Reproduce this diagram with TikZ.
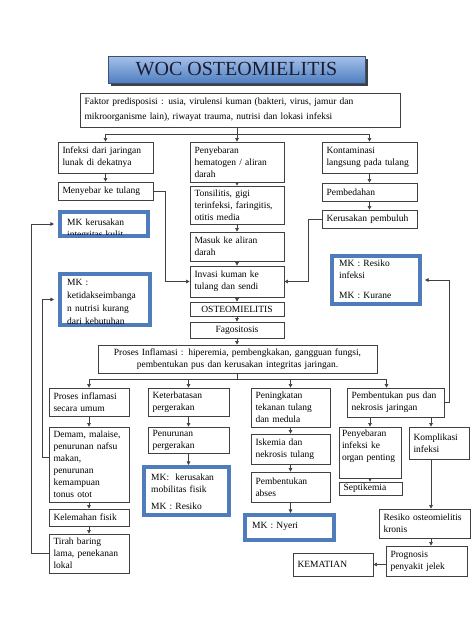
\documentclass[tikz,border=0pt]{standalone}
\usepackage{fontspec}
\setmainfont{Liberation Serif}
\usetikzlibrary{arrows.meta,calc}
\definecolor{lc}{HTML}{404040}
\definecolor{mkb}{HTML}{4F7CBA}
\definecolor{ttop}{HTML}{A6C2EA}
\definecolor{tbot}{HTML}{4E7EC0}
\definecolor{ttxt}{HTML}{1C1C30}
\newcommand\bxfont{\fontsize{9.5}{12}\selectfont\hyphenpenalty=10000\exhyphenpenalty=10000}
\newcommand\boxnode[7][]{%
  \pgfmathsetmacro\bxw{#5-#3}\pgfmathsetmacro\bxh{#6-#4}%
  \pgfmathsetmacro\bxtw{#5-#3-9}%
  \node[stdbox,minimum width=\bxw pt,minimum height=\bxh pt,text width=\bxtw pt,#1]
    (#2) at ({(#3+#5)/2},{(#4+#6)/2}) {#7};}
\newcommand\mknode[8][]{%
  \pgfmathsetmacro\mkw{#5-#3-4}\pgfmathsetmacro\mkh{#6-#4-4}%
  \pgfmathsetmacro\mktw{#5-#3-12}%
  \node[mkbox,minimum width=\mkw pt,minimum height=\mkh pt] (#2) at ({(#3+#5)/2},{(#4+#6)/2}) {};
  \begin{scope}
    \clip ({#3+4},{#4+4}) rectangle ({#5-4},{#6-4});
    \node[mktxt,text width=\mktw pt,anchor=north west,#1] (#2-t) at ({#3+9},#7) {#8};
  \end{scope}}
\begin{document}
\begin{tikzpicture}[x=1pt,y=-1pt,
  stdbox/.style={draw=lc,line width=0.75pt,fill=white,inner xsep=4.5pt,inner ysep=2pt,align=left,font=\bxfont},
  mkbox/.style={draw=mkb,line width=4pt,fill=white,inner sep=0pt},
  mktxt/.style={inner sep=0pt,align=left,font=\bxfont},
  ln/.style={draw=lc,line width=0.7pt},
  arr/.style={ln,-{Triangle[length=3.6pt,width=3.6pt]}}]
\useasboundingbox[fill=white] (0,0) rectangle (474,632);
% title
\fill[black!75] (111,59) rectangle (368,86);
\node[draw={rgb,255:red,60;green,80;blue,120},line width=0.6pt,top color=ttop,bottom color=tbot,
  minimum width=257pt,minimum height=27pt,inner sep=0pt,text=ttxt,
  font=\fontsize{20}{24}\selectfont] (title) at (236.5,69.5) {WOC OSTEOMIELITIS};
% boxes
\boxnode[font=\fontsize{9.5}{15}\selectfont]{faktor}{80}{93}{400}{127}{Faktor predisposisi : usia, virulensi kuman (bakteri, virus, jamur dan\\mikroorganisme lain), riwayat trauma, nutrisi dan lokasi infeksi}
\boxnode{infeksi}{58}{142}{153}{173}{Infeksi dari jaringan\\lunak di dekatnya}
\boxnode{penyeb}{190}{142}{284}{182}{Penyebaran\\hematogen / aliran\\darah}
\boxnode{kontam}{322}{142}{417}{173}{Kontaminasi\\langsung pada tulang}
\boxnode{menyebar}{58}{182}{153}{200}{Menyebar ke tulang}
\boxnode{tonsil}{190}{186}{284}{224}{Tonsilitis, gigi\\terinfeksi, faringitis,\\otitis media}
\boxnode{pembed}{322}{183}{417}{201}{Pembedahan}
\boxnode{kerusak}{322}{210}{417}{228}{Kerusakan pembuluh}
\boxnode{masuk}{190}{232}{284}{261}{Masuk ke aliran\\darah}
\boxnode{invasi}{190}{266}{284}{297}{Invasi kuman ke\\tulang dan sendi}
\boxnode[align=center]{osteo}{190}{302}{284}{316}{OSTEOMIELITIS}
\boxnode[align=center]{fago}{190}{322}{284}{338}{Fagositosis}
\boxnode[align=center]{proses}{98}{345}{377}{373}{Proses Inflamasi : hiperemia, pembengkakan, gangguan fungsi,\\pembentukan pus dan kerusakan integritas jaringan.}
\boxnode{umum}{49}{388}{129}{416}{Proses inflamasi\\secara umum}
\boxnode{keterb}{148}{388}{229}{416}{Keterbatasan\\pergerakan}
\boxnode{pening}{251}{388}{330}{427}{Peningkatan\\tekanan tulang\\dan medula}
\boxnode{pus}{347}{388}{444}{417}{Pembentukan pus dan\\nekrosis jaringan}
\boxnode{demam}{49}{427}{129}{502}{Demam, malaise,\\penurunan nafsu\\makan,\\penurunan\\kemampuan\\tonus otot}
\boxnode{lemah}{49}{509}{129}{526}{Kelemahan fisik}
\boxnode{tirah}{49}{534}{129}{573}{Tirah baring\\lama, penekanan\\lokal}
\boxnode{turun}{148}{427}{229}{453}{Penurunan\\pergerakan}
\boxnode{iskemia}{251}{434}{330}{464}{Iskemia dan\\nekrosis tulang}
\boxnode{abses}{251}{472}{330}{502}{Pembentukan\\abses}
\boxnode[inner xsep=3pt,text width=56pt,text depth=39pt]{penyinf}{339}{427}{401}{478}{Penyebaran\\infeksi ke\\organ~penting}
\boxnode{septik}{339}{482}{402}{495}{Septikemia}
\boxnode{kompl}{409}{427}{469}{459}{Komplikasi\\infeksi}
\boxnode{kronis}{379}{509}{470}{538}{Resiko osteomielitis\\kronis}
\boxnode{progn}{386}{546}{467}{576}{Prognosis\\penyakit jelek}
\boxnode{mati}{293}{553}{373}{576}{KEMATIAN}
% MK boxes
\mknode{mkkulit}{58}{210}{150}{238}{219}{MK kerusakan\\integritas kulit}
\mknode[font=\fontsize{9.5}{13}\selectfont]{mknutr}{58}{272}{152}{327}{279.5}{MK :\\ketidakseimbanga\\n nutrisi kurang\\dari kebutuhan}
\mknode{mkinf}{330}{254}{422}{306}{260}{MK : Resiko\\infeksi\\[8pt]MK : Kurane}
\mknode{mkmob}{142}{465}{231}{517}{473.5}{MK:~ kerusakan\\mobilitas fisik\\[5pt]MK : Resiko}
\mknode{mknyeri}{243}{513}{336}{542}{522.5}{MK : Nyeri}
% connectors top
\coordinate (fk) at (penyeb.north |- 0,134);
\draw[ln] (penyeb.north |- faktor.south) -- (fk);
\draw[arr] (fk) -- (penyeb.north);
\draw[arr] (fk) -| (infeksi.north);
\draw[arr] (fk) -| (kontam.north);
\draw[arr] (infeksi.south) -- (menyebar.north);
\draw[arr] (penyeb.south) -- (tonsil.north);
\draw[arr] (tonsil.south) -- (masuk.north);
\draw[arr] (masuk.south) -- (invasi.north);
\draw[arr] (invasi.south) -- (osteo.north);
\draw[arr] (osteo.south) -- (fago.north);
\draw[arr] (fago.south) -- (fago.south |- proses.north);
\draw[arr] (kontam.south) -- (pembed.north);
\draw[arr] (pembed.south) -- (kerusak.north);
\draw[arr] (menyebar.east) -- ++(12,0) |- (invasi.west);
\draw[arr] (kerusak.west) -- ++(-13,0) |- (invasi.east);
\draw[arr,shorten >=4pt] (tirah.west) -- ++(-17,0) |- (mkkulit.west);
\draw[arr,shorten >=4pt] ($(demam.west)+(0,-7)$) -- ++(-6,0) |- (mknutr.west);
\draw[arr,shorten >=3pt] (pus.east) -- ++(5,0) |- (mkinf.east);
% connectors bottom
\coordinate (pj) at ($(proses.south)+(0,6)$);
\draw[ln] (proses.south) -- (pj);
\draw[arr] (pj) -| (umum.north);
\draw[arr] (pj) -| (keterb.north);
\draw[arr] (pj) -| (pening.north);
\draw[arr] (pj) -| ($(pus.north)+(-9,0)$);
\draw[arr] (umum.south) -- (demam.north);
\draw[arr] (demam.south) -- (lemah.north);
\draw[arr] (lemah.south) -- (tirah.north);
\draw[arr] (keterb.south) -- (turun.north);
\draw[arr] (turun.south) -- (turun.south |- mkmob.north);
\draw[arr] (pening.south) -- (iskemia.north);
\draw[arr] (iskemia.south) -- (abses.north);
\draw[arr] (abses.south) -- (abses.south |- mknyeri.north);
\coordinate (kx) at (431,0);
\draw[arr] (pus.south -| penyinf.north) -- (penyinf.north);
\draw[arr] (penyinf.south) -- (septik.north -| penyinf.south);
\draw[arr] (pus.south -| kx) -- (kompl.north -| kx);
\draw[arr] (kompl.south -| kx) -- (kronis.north -| kx);
\draw[arr] (kronis.south -| kx) -- (progn.north -| kx);
\draw[arr] (progn.west |- mati.east) -- (mati.east);
\end{tikzpicture}
\end{document}
